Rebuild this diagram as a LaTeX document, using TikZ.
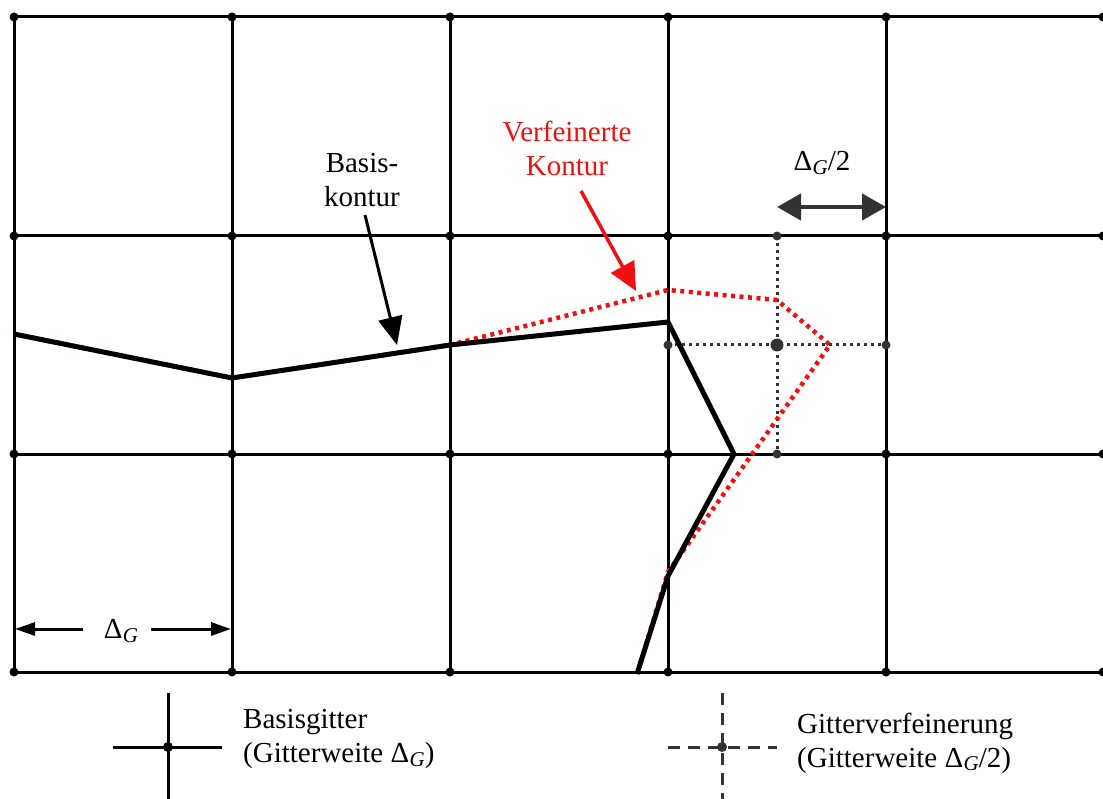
\documentclass[tikz,border=0pt]{standalone}
\usepackage{fontspec}
\setmainfont{Liberation Serif}
\usetikzlibrary{arrows.meta}
\definecolor{dgray}{HTML}{333333}
\definecolor{redc}{HTML}{EE1111}
\newcommand{\DelG}{Δ\kern0.5pt\raisebox{-0.28ex}{\fontsize{21}{21}\selectfont\itshape G}}
\begin{document}
\begin{tikzpicture}[x=1pt,y=-1pt,
  gridline/.style={line width=3pt,black},
  gdot/.style={circle,fill=black,inner sep=0pt,minimum size=9pt},
  rdot/.style={circle,fill=dgray,inner sep=0pt,minimum size=9pt},
  finegrid/.style={line width=3pt,dgray,dash pattern=on 3pt off 4pt},
  basis/.style={line width=5pt,black,line join=miter},
  refined/.style={line width=4.5pt,redc,dash pattern=on 4pt off 4.5pt},
  lbl/.style={font=\fontsize{29}{34}\selectfont,inner sep=0pt,align=center}]
\useasboundingbox (0,0) rectangle (1103,799);
% base grid
\foreach \x in {14,232,450,668,886} \draw[gridline] (\x,17) -- (\x,672);
\foreach \y in {17,236,454,672} \draw[gridline] (14,\y) -- (1103,\y);
\foreach \x in {14,232,450,668,886,1103}
  \foreach \y in {17,236,454,672} \node[gdot] at (\x,\y) {};
% refined grid
\draw[finegrid] (777,236) -- (777,454);
\draw[finegrid] (668,345) -- (886,345);
\foreach \p in {(777,236),(777,454),(668,345),(886,345)} \node[rdot] at \p {};
\node[rdot,minimum size=13pt] (fc) at (777,345) {};
% contour points
\coordinate (p1) at (14,334);
\coordinate (p2) at (232,378);
\coordinate (p3) at (450,345);
\coordinate (p4) at (668,322);
\coordinate (p5) at (734,454);
\coordinate (p6) at (668,576);
\coordinate (p7) at (637,674);
\coordinate (r4) at (668,290);
\coordinate (r5) at (777,300);
\coordinate (r6) at (830,345);
\coordinate (r7) at (668,572);
% refined contour
\draw[refined] (p1) -- (p2) -- (p3) -- (r4) -- (r5) -- (r6) -- (r7) -- (p7);
% base contour
\draw[basis] (p1) -- (p2) -- (p3) -- (p4) -- (p5) -- (p6) -- (p7);
% labels and arrows
\node[lbl] (bk) at (362,180) {Basis-\\kontur};
\coordinate (bkt) at (397,345);
\draw[line width=3pt,-{Triangle[length=28pt,width=24pt]}] (365,215) -- (bkt);
\node[lbl,text=redc] (vk) at (567,148) {Verfeinerte\\Kontur};
\coordinate (vkt) at (636,291);
\draw[line width=3.5pt,redc,-{Triangle[length=28pt,width=26pt]}] (581,191) -- (vkt);
\node[lbl] (dg2) at (822,163) {\DelG/2};
\coordinate (dga) at (777,207);
\coordinate (dgb) at (886,207);
\draw[line width=4.5pt,dgray,{Triangle[length=24pt,width=26pt]}-{Triangle[length=24pt,width=26pt]}] (dga) -- (dgb);
\node[lbl] (dg) at (121,631) {\DelG};
\coordinate (dl) at (15,629);
\coordinate (dr) at (231,629);
\draw[line width=3pt,-{Triangle[length=20pt,width=13pt]}] (83,629) -- (dl);
\draw[line width=3pt,-{Triangle[length=20pt,width=13pt]}] (151,629) -- (dr);
% legend
\draw[line width=3pt] (168,693) -- (168,799);
\draw[line width=3pt] (113,747) -- (222,747);
\node[gdot,minimum size=10pt] (l1) at (168,747) {};
\node[lbl,align=left,anchor=west] (t1) at (243,739) {Basisgitter\\(Gitterweite \DelG)};
\draw[line width=3pt,dgray,dash pattern=on 12pt off 8pt] (722,693) -- (722,799);
\draw[line width=3pt,dgray,dash pattern=on 12pt off 8pt] (668,747) -- (777,747);
\node[rdot,minimum size=10pt] (l2) at (722,747) {};
\node[lbl,align=left,anchor=west] (t2) at (797,743) {Gitterverfeinerung\\(Gitterweite \DelG/2)};
\end{tikzpicture}
\end{document}
